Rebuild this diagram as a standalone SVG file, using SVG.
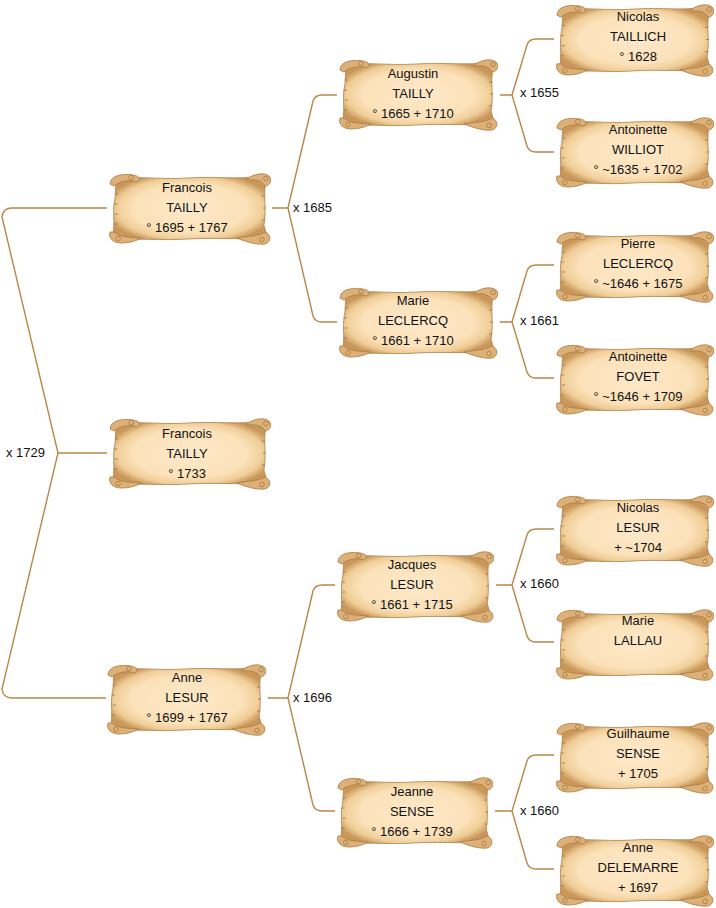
<svg xmlns="http://www.w3.org/2000/svg" xmlns:xlink="http://www.w3.org/1999/xlink" width="716" height="908" viewBox="0 0 716 908">
<style>
.t{font-family:"Liberation Sans",Arial,sans-serif;font-size:13px;fill:#111;text-anchor:middle}
.l{font-family:"Liberation Sans",Arial,sans-serif;font-size:13px;fill:#111}
.c{fill:none;stroke:#b8874a;stroke-width:1.4}
.roll{fill:#dcb077;stroke:#a97b43;stroke-width:0.8}
.sp{fill:none;stroke:#a97b43;stroke-width:0.8}
</style>
<defs>
<radialGradient id="pg" cx="50%" cy="50%" r="56%">
<stop offset="0" stop-color="#fee8c8"/>
<stop offset="0.66" stop-color="#fce2ba"/>
<stop offset="0.86" stop-color="#efcd97"/>
<stop offset="1" stop-color="#c9975a"/>
</radialGradient>
<symbol id="scroll" viewBox="0 0 164 76" preserveAspectRatio="none">
<path d="M9,10 C30,5 50,10 80,8 C110,6 130,10 153,6 L157,12 C154,25 158,40 155,55 L158,66 C135,71 110,67 80,69 C50,71 30,67 10,71 L6,64 C8,52 5,40 8,28 Z" fill="url(#pg)" stroke="#b08048" stroke-width="0.8"/>
<path class="roll" d="M3,14 C3,6 14,3 26,5 C32,6 34,9 30,12 C24,10 14,10 7,16 Z"/>
<circle class="sp" cx="24" cy="7.5" r="2.3"/>
<path class="roll" d="M138,9 C146,3 157,2 161,7 C163,12 160,16 156,16 C154,12 150,9 138,10 Z"/>
<circle class="sp" cx="157" cy="8.5" r="2.3"/>
<path class="roll" d="M3,62 C1,68 6,73 14,73 C24,73 30,70 34,68 C24,67 14,68 7,62 Z"/>
<circle class="sp" cx="11" cy="68.5" r="2.3"/>
<path class="roll" d="M128,68 C140,66 150,66 156,62 C162,64 163,72 156,74 C148,75 138,72 128,68 Z"/>
<circle class="sp" cx="153" cy="69.5" r="2.3"/>
<path d="M8,24 h3 M7,34 h3 M8,44 h3 M7,54 h3 M153,26 h3 M154,38 h3 M153,50 h3" stroke="#9a6c36" stroke-width="0.8" fill="none"/>
</symbol>
</defs>
<rect width="716" height="908" fill="#fff"/>
<g id="connectors">
<path class="c" d="M107,208 H12 Q3,208 2,217 L58,453 L2,689 Q3,698 12,698 H106 M58,453 H107"/>
<path class="c" d="M272,208 H288 L313,101 Q315,95 322,95 H337 M288,208 L313,316 Q315,322 322,322 H337"/>
<path class="c" d="M268,698 H288 L313,591 Q315,585 322,585 H335 M288,698 L313,805 Q315,811 322,811 H335"/>
<path class="c" d="M500,95 H512 L527,45 Q529,39 536,39 H554 M512,95 L527,146 Q529,152 536,152 H554"/>
<path class="c" d="M500,322 H512 L527,271 Q529,265 536,265 H554 M512,322 L527,372 Q529,378 536,378 H554"/>
<path class="c" d="M496,585 H512 L527,535 Q529,529 536,529 H554 M512,585 L527,636 Q529,642 536,642 H554"/>
<path class="c" d="M495,811 H512 L527,761 Q529,755 536,755 H554 M512,811 L527,863 Q529,869 536,869 H554"/>
</g>
<g id="labels">
<text class="l" x="6" y="457">x 1729</text>
<text class="l" x="293" y="212">x 1685</text>
<text class="l" x="293" y="702">x 1696</text>
<text class="l" x="520" y="97">x 1655</text>
<text class="l" x="520" y="325">x 1661</text>
<text class="l" x="520" y="588">x 1660</text>
<text class="l" x="520" y="815">x 1660</text>
</g>
<g id="francois-tailly-1695"><use href="#scroll" x="107" y="170" width="166" height="76"/><text class="t" x="187" y="191.5">Francois</text><text class="t" x="187" y="211.5">TAILLY</text><text class="t" x="187" y="231.5">° 1695 + 1767</text></g>
<g id="francois-tailly-1733"><use href="#scroll" x="107" y="415" width="166" height="76"/><text class="t" x="187" y="438">Francois</text><text class="t" x="187" y="458">TAILLY</text><text class="t" x="187" y="478">° 1733</text></g>
<g id="anne-lesur"><use href="#scroll" x="105" y="661" width="163" height="76"/><text class="t" x="187" y="682">Anne</text><text class="t" x="187" y="702">LESUR</text><text class="t" x="187" y="722">° 1699 + 1767</text></g>
<g id="augustin-tailly"><use href="#scroll" x="337" y="56" width="163" height="76"/><text class="t" x="413" y="77.5">Augustin</text><text class="t" x="413" y="97.5">TAILLY</text><text class="t" x="413" y="117.5">° 1665 + 1710</text></g>
<g id="marie-leclercq"><use href="#scroll" x="337" y="284" width="163" height="76"/><text class="t" x="413" y="304.5">Marie</text><text class="t" x="413" y="324.5">LECLERCQ</text><text class="t" x="413" y="344.5">° 1661 + 1710</text></g>
<g id="jacques-lesur"><use href="#scroll" x="335" y="548" width="161" height="76"/><text class="t" x="412" y="568.5">Jacques</text><text class="t" x="412" y="588.5">LESUR</text><text class="t" x="412" y="608.5">° 1661 + 1715</text></g>
<g id="jeanne-sense"><use href="#scroll" x="335" y="774" width="160" height="76"/><text class="t" x="412" y="795.5">Jeanne</text><text class="t" x="412" y="815.5">SENSE</text><text class="t" x="412" y="835.5">° 1666 + 1739</text></g>
<g id="nicolas-taillich"><use href="#scroll" x="554" y="1" width="162" height="77"/><text class="t" x="638" y="20.5">Nicolas</text><text class="t" x="638" y="40.5">TAILLICH</text><text class="t" x="638" y="60.5">° 1628</text></g>
<g id="antoinette-williot"><use href="#scroll" x="554" y="114" width="162" height="76"/><text class="t" x="638" y="133.5">Antoinette</text><text class="t" x="638" y="153.5">WILLIOT</text><text class="t" x="638" y="173.5">° ~1635 + 1702</text></g>
<g id="pierre-leclercq"><use href="#scroll" x="554" y="228" width="162" height="76"/><text class="t" x="638" y="247.5">Pierre</text><text class="t" x="638" y="267.5">LECLERCQ</text><text class="t" x="638" y="287.5">° ~1646 + 1675</text></g>
<g id="antoinette-fovet"><use href="#scroll" x="554" y="341" width="162" height="76"/><text class="t" x="638" y="360.5">Antoinette</text><text class="t" x="638" y="380.5">FOVET</text><text class="t" x="638" y="400.5">° ~1646 + 1709</text></g>
<g id="nicolas-lesur"><use href="#scroll" x="554" y="492" width="162" height="76"/><text class="t" x="638" y="511.5">Nicolas</text><text class="t" x="638" y="531.5">LESUR</text><text class="t" x="638" y="551.5">+ ~1704</text></g>
<g id="marie-lallau"><use href="#scroll" x="554" y="606" width="162" height="76"/><text class="t" x="638" y="625">Marie</text><text class="t" x="638" y="644.5">LALLAU</text></g>
<g id="guilhaume-sense"><use href="#scroll" x="554" y="719" width="162" height="76"/><text class="t" x="638" y="737.5">Guilhaume</text><text class="t" x="638" y="757.5">SENSE</text><text class="t" x="638" y="777.5">+ 1705</text></g>
<g id="anne-delemarre"><use href="#scroll" x="554" y="832" width="162" height="76"/><text class="t" x="638" y="851.5">Anne</text><text class="t" x="638" y="871.5">DELEMARRE</text><text class="t" x="638" y="891.5">+ 1697</text></g>
</svg>
